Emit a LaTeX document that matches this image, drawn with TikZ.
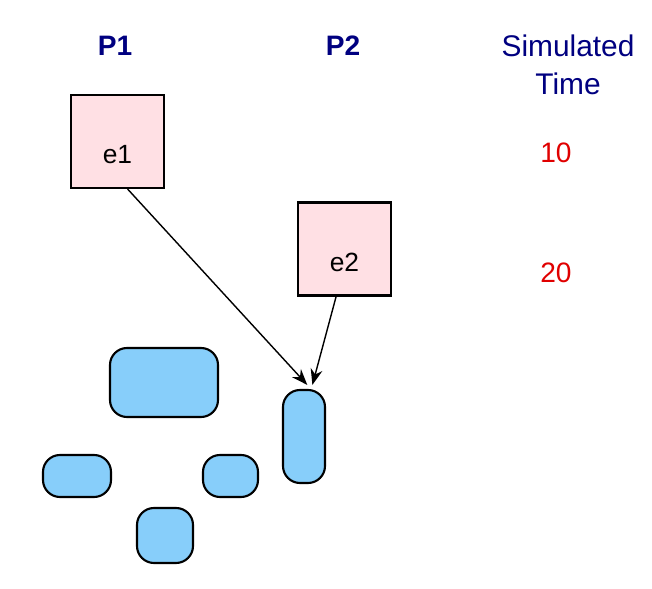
\documentclass[tikz,border=0pt]{standalone}
\usepackage{fontspec}
\setmainfont{Liberation Sans}
\usepackage{tikz}
\usetikzlibrary{arrows.meta, positioning}

\definecolor{procblue}{HTML}{000080}
\definecolor{timered}{HTML}{E00000}
\definecolor{eventpink}{HTML}{FFE0E4}
\definecolor{msgblue}{HTML}{87CEFA}

\begin{document}
\begin{tikzpicture}[
    proc/.style={font=\fontsize{16}{19}\selectfont\bfseries, text=procblue},
    timehead/.style={font=\fontsize{17}{21.5}\selectfont, text=procblue, align=center},
    stamp/.style={font=\fontsize{16}{19}\selectfont, text=timered},
    event/.style={draw, line width=1.2pt, fill=eventpink, minimum width=1.87cm, minimum height=1.86cm,
                  inner sep=0pt, font=\fontsize{15}{18}\selectfont, text height=0.9cm, text depth=0pt},
    blob/.style={draw, line width=1.2pt, fill=msgblue, rounded corners=0.34cm, inner sep=0pt},
    flow/.style={-{Stealth[length=3.2mm, width=2.4mm]}, line width=0.8pt},
]
  \useasboundingbox (0,0) rectangle (13.04,11.78);

  % column heads
  \node[proc] (p1) at (2.30,10.86) {P1};
  \node[proc] (p2) at (6.86,10.86) {P2};
  \node[timehead] (simtime) at (11.36,10.48) {Simulated\\Time};

  \node[event] (e1) at (2.35,8.95) {e1};
  \node[event] (e2) at (6.89,6.80) {e2};

  \node[stamp] (t10) at (11.12,8.72) {10};
  \node[stamp] (t20) at (11.12,6.32) {20};

  % pending events
  \node[blob, minimum width=0.84cm, minimum height=1.86cm] (ev) at (6.08,3.05) {};
  \node[blob, minimum width=2.16cm, minimum height=1.38cm] (b1) at (3.28,4.13) {};
  \node[blob, minimum width=1.36cm, minimum height=0.84cm] (b2) at (1.54,2.26) {};
  \node[blob, minimum width=1.10cm, minimum height=0.84cm] (b3) at (4.61,2.26) {};
  \node[blob, minimum width=1.12cm, minimum height=1.10cm] (b4) at (3.30,1.07) {};

  \draw[flow] (e1.-78) -- ([yshift=0.08cm]ev.86);
  \draw[flow] (e2.-100) -- ([yshift=0.08cm]ev.80);
\end{tikzpicture}
\end{document}
